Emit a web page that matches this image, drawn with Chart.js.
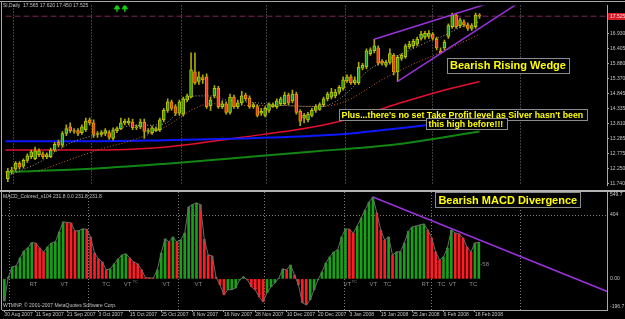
<!DOCTYPE html>
<html>
<head>
<meta charset="utf-8">
<script src="https://cdn.jsdelivr.net/npm/chart.js@4.4.1/dist/chart.umd.min.js"></script>
<style>
html, body { margin: 0; padding: 0; background: #000; }
#wrap { position: relative; width: 625px; height: 319px; overflow: hidden; background: #000; }
canvas { position: absolute; left: 0; }
#priceCanvas { top: 0; }
#macdCanvas { top: 191px; }
</style>
</head>
<body>
<div id="wrap">
  <canvas id="priceCanvas" width="625" height="191"></canvas>
  <canvas id="macdCanvas" width="625" height="128"></canvas>
</div>
<script>
// Data (SI daily)
const dates = ['30 Aug 2007', '11 Sep 2007', '21 Sep 2007', '3 Oct 2007', '15 Oct 2007', '25 Oct 2007',
               '6 Nov 2007', '16 Nov 2007', '28 Nov 2007', '10 Dec 2007', '20 Dec 2007', '3 Jan 2008',
               '15 Jan 2008', '25 Jan 2008', '6 Feb 2008', '18 Feb 2008'];
const dateBars = [0, 8, 16, 24, 32, 40, 48, 56, 64, 72, 80, 88, 96, 104, 112, 120];

const opens = [11.91, 12.17, 12.24, 12.44, 12.34, 12.54, 12.67, 12.60, 12.74, 12.77,
  12.67, 12.67, 12.90, 13.17, 13.07, 13.47, 13.70, 13.57, 13.57, 13.50,
  13.60, 13.94, 13.84, 13.44, 13.44, 13.47, 13.50, 13.30, 13.57, 13.64,
  13.84, 13.84, 13.87, 13.67, 13.70, 13.87, 13.54, 13.50, 13.57, 13.60,
  13.94, 14.27, 14.57, 14.40, 14.17, 14.14, 14.63, 14.73, 15.60, 15.27,
  15.40, 15.43, 14.43, 14.77, 15.03, 14.40, 14.50, 14.20, 14.73, 14.40,
  14.53, 14.80, 14.70, 14.40, 14.40, 14.17, 14.10, 14.27, 14.40, 14.40,
  14.50, 14.50, 14.80, 14.60, 14.83, 14.24, 14.00, 13.94, 14.10, 14.27,
  14.30, 14.47, 14.67, 14.73, 14.77, 14.90, 15.03, 15.30, 15.43, 15.23,
  15.23, 15.73, 15.77, 16.23, 16.33, 16.43, 15.97, 15.83, 15.93, 16.17,
  15.60, 16.07, 16.13, 16.46, 16.50, 16.56, 16.76, 16.80, 16.83, 16.90,
  16.73, 16.33, 16.43, 16.83, 17.16, 17.56, 17.20, 17.33, 17.23, 17.10,
  17.16, 17.565];
const highs = [12.27, 12.31, 12.50, 12.50, 12.60, 12.77, 12.90, 13.00, 12.94, 12.84,
  12.80, 12.97, 13.17, 13.24, 13.54, 13.77, 13.84, 13.64, 13.64, 13.77,
  14.00, 14.00, 13.94, 13.54, 13.57, 13.64, 13.57, 13.67, 13.70, 14.00,
  13.97, 14.00, 13.97, 13.77, 13.97, 13.97, 13.64, 13.74, 13.70, 14.00,
  14.34, 14.67, 14.63, 14.47, 14.63, 14.73, 14.83, 16.26, 16.26, 15.60,
  15.50, 15.53, 14.73, 15.13, 15.10, 14.60, 14.57, 14.83, 14.80, 14.63,
  14.93, 14.87, 14.77, 14.53, 14.47, 14.34, 14.40, 14.53, 14.53, 14.67,
  14.73, 14.90, 14.87, 14.97, 14.90, 14.30, 14.17, 14.20, 14.34, 14.47,
  14.53, 14.73, 14.90, 15.03, 15.00, 15.13, 15.43, 15.50, 15.50, 15.43,
  15.93, 15.90, 16.40, 16.43, 16.73, 16.50, 16.03, 16.00, 16.40, 16.23,
  16.17, 16.23, 16.56, 16.66, 16.73, 16.80, 17.00, 17.00, 17.03, 16.96,
  16.80, 16.43, 16.70, 17.26, 17.63, 17.63, 17.46, 17.40, 17.30, 17.26,
  17.63, 17.62];
const lows = [11.81, 12.07, 12.17, 12.24, 12.27, 12.47, 12.60, 12.57, 12.67, 12.60,
  12.60, 12.64, 12.84, 13.00, 13.00, 13.40, 13.50, 13.47, 13.40, 13.44,
  13.54, 13.77, 13.34, 13.34, 13.37, 13.40, 13.27, 13.24, 13.50, 13.60,
  13.77, 13.77, 13.60, 13.60, 13.64, 13.30, 13.47, 13.44, 13.54, 13.54,
  13.87, 14.20, 14.27, 14.10, 14.10, 14.07, 14.57, 14.70, 15.17, 15.17,
  15.20, 14.34, 14.27, 14.70, 14.34, 14.34, 14.14, 14.14, 14.34, 14.34,
  14.47, 14.60, 14.34, 14.34, 14.04, 14.10, 14.04, 14.20, 14.37, 14.34,
  14.43, 14.47, 14.47, 14.53, 14.14, 13.74, 13.84, 13.87, 14.04, 14.20,
  14.27, 14.40, 14.60, 14.67, 14.70, 14.83, 14.97, 15.23, 15.17, 15.17,
  15.17, 15.67, 15.70, 16.17, 16.26, 15.83, 15.83, 15.77, 15.87, 15.50,
  15.27, 16.00, 16.07, 16.40, 16.43, 16.50, 16.70, 16.73, 16.76, 16.70,
  16.36, 16.23, 16.36, 16.76, 17.10, 17.10, 17.13, 17.16, 17.03, 17.03,
  17.10, 17.45];
const closes = [12.17, 12.21, 12.44, 12.31, 12.54, 12.70, 12.84, 12.87, 12.87, 12.67,
  12.74, 12.90, 13.10, 13.07, 13.47, 13.64, 13.57, 13.54, 13.47, 13.70,
  13.90, 13.84, 13.44, 13.47, 13.50, 13.57, 13.34, 13.57, 13.64, 13.84,
  13.90, 13.90, 13.67, 13.70, 13.87, 13.54, 13.57, 13.67, 13.64, 13.94,
  14.27, 14.57, 14.34, 14.17, 14.57, 14.67, 14.77, 15.67, 15.23, 15.43,
  15.33, 14.40, 14.63, 15.03, 14.40, 14.50, 14.20, 14.73, 14.40, 14.53,
  14.77, 14.67, 14.40, 14.47, 14.10, 14.24, 14.34, 14.47, 14.47, 14.60,
  14.67, 14.80, 14.53, 14.83, 14.20, 13.90, 14.10, 14.14, 14.27, 14.40,
  14.47, 14.67, 14.83, 14.90, 14.90, 15.07, 15.33, 15.43, 15.23, 15.33,
  15.77, 15.83, 16.33, 16.36, 16.50, 15.90, 15.90, 15.93, 16.23, 15.60,
  16.10, 16.17, 16.50, 16.56, 16.66, 16.73, 16.90, 16.93, 16.93, 16.76,
  16.43, 16.26, 16.63, 17.20, 17.56, 17.16, 17.40, 17.23, 17.10, 17.20,
  17.56, 17.525];

// moving averages, sampled at a few bars
const maBars = [-1, 20, 40, 60, 80, 90, 100, 110, 121];
const maBlue = [13.20, 13.20, 13.24, 13.30, 13.40, 13.50, 13.64, 13.80, 14.00];
const maRed = [12.90, 12.90, 13.00, 13.34, 13.74, 14.07, 14.50, 14.90, 15.27];
const maGreen = [12.14, 12.24, 12.42, 12.64, 12.87, 12.97, 13.10, 13.30, 13.54];
const fastBars = [0, 8, 16, 24, 32, 40, 44, 48, 52, 56, 64, 72, 80, 84, 88, 92, 96, 100, 104, 108, 112, 116, 121];
const fastMA = [12.01, 12.47, 13.14, 13.47, 13.74, 13.80, 14.27, 14.77, 14.77, 14.63, 14.53, 14.43,
                14.40, 14.57, 15.00, 15.60, 15.93, 16.17, 16.40, 16.66, 16.86, 17.13, 17.33];
const slowBars = [8, 16, 24, 32, 40, 48, 52, 60, 70, 80, 84, 88, 96, 104, 112, 121];
const slowMA = [12.17, 12.57, 12.94, 13.24, 13.67, 14.34, 14.50, 14.44, 14.44, 14.40, 14.47, 14.67,
                15.33, 15.87, 16.33, 16.90];

const macd = [-140, 10, 76, 82, 133, 177, 196, 229, 226, 196,
  170, 202, 227, 234, 297, 360, 358, 354, 303, 305,
  316, 314, 265, 164, 126, 107, 57, 63, 95, 126,
  151, 158, 133, 107, 95, 57, 8, 6, 5, 57,
  164, 253, 234, 265, 234, 247, 290, 455, 470, 480,
  470, 250, 151, 145, 10, -38, -101, -69, -68, -57,
  -6, 13, -6, -50, -69, -114, -145, -88, -50, -25,
  4, 63, 57, 88, 25, -38, -151, -164, -132, -69,
  -6, 44, 101, 139, 170, 183, 265, 316, 314, 290,
  334, 385, 436, 486, 518, 417, 309, 246, 265, 151,
  170, 172, 227, 300, 328, 334, 341, 347, 309, 259,
  170, 120, 139, 196, 309, 290, 284, 259, 202, 170,
  227, 232];

const priceTicks = [16.930, 16.405, 15.880, 15.370, 14.845, 14.335, 13.810, 13.285, 12.775, 12.250, 11.740];
const macdTicks = [549.7, 404, 0, -196.7];
const macdTickText = ['549.7', '404', '0.00', '-196.7'];
const macdLevels = [404];
const monthStarts = [1.3, 21.4, 44.4, 66.3, 86.5, 108.7, 131.4];
const bidPrice = 17.525;
const wedgeUpper = [[94, 16.73], [125, 18.04]];
const wedgeLower = [[100, 15.27], [132, 18.07]];
const divergence = [[94, 518], [154, -82]];
const arrowBars = [28, 30];
const sigText = ['RT', 'VT', 'TC', 'VT', 'VT', 'VT', 'VT', 'VT', 'TC', 'RT', 'TC', 'VT', 'TC'];
const sigBars = [7.4, 15.3, 26, 31.4, 41.3, 49.5, 87.5, 94.1, 97.7, 107.4, 111.5, 114.3, 119.6];
const supBars = [33.4, 89.3];

// Layout / style
const X_MIN = -0.6, X_MAX = 153.7;
const AXIS_W = 18;
const PRICE_MIN = 11.674, PRICE_MAX = 17.895;
const GRID = '#7c7c7c';
const AXIS = '#a8a8a8';
const LABEL = '#c4c4c4';
const PURPLE = '#9a32dc';
const FONT = "'Liberation Sans', Arial, sans-serif";

Chart.defaults.font.family = FONT;
Chart.defaults.color = LABEL;

const barIdx = closes.map((c, i) => i);
const pts = (xs, ys) => xs.map((x, i) => ({ x: x, y: ys[i] }));
const pairs = arr => arr.map(p => ({ x: p[0], y: p[1] }));

// vertical dotted month lines, plus optional horizontal levels
function gridPlugin(levels) {
    return {
        id: 'mtGrid',
        beforeDatasetsDraw(chart) {
            const { ctx, chartArea: a, scales } = chart;
            ctx.save();
            ctx.strokeStyle = GRID;
            ctx.lineWidth = 1;
            ctx.setLineDash([1, 2]);
            monthStarts.forEach(v => {
                const px = Math.round(scales.x.getPixelForValue(v)) + 0.5;
                ctx.beginPath();
                ctx.moveTo(px, a.top);
                ctx.lineTo(px, a.bottom);
                ctx.stroke();
            });
            levels.forEach(v => {
                const py = Math.round(scales.y.getPixelForValue(v)) + 0.5;
                ctx.beginPath();
                ctx.moveTo(a.left, py);
                ctx.lineTo(a.right, py);
                ctx.stroke();
            });
            ctx.restore();
        }
    };
}

// yellow bold label in a grey outlined box (MT4 text objects)
function boxText(ctx, text, cx, cy, size, h) {
    ctx.font = `bold ${size}px ${FONT}`;
    const w = ctx.measureText(text).width;
    const x0 = Math.round(cx - w / 2 - 3) + 0.5;
    const y0 = Math.round(cy - h / 2) + 0.5;
    ctx.fillStyle = '#000';
    ctx.fillRect(x0, y0, w + 6, h);
    ctx.strokeStyle = '#8c8c8c';
    ctx.lineWidth = 1;
    ctx.strokeRect(x0, y0, Math.round(w + 6), h);
    ctx.fillStyle = '#ffff00';
    ctx.textAlign = 'center';
    ctx.textBaseline = 'middle';
    ctx.fillText(text, cx, cy + 1);
}

const priceNotes = {
    id: 'priceNotes',
    afterDraw(chart) {
        const { ctx, chartArea: a, scales: { x, y } } = chart;
        ctx.save();
        // frame
        ctx.fillStyle = AXIS;
        ctx.fillRect(0, 1, 625, 1);
        ctx.fillRect(1, 1, 1, 190);
        ctx.fillStyle = '#b4b4b4';
        ctx.fillRect(0, 190, 625, 1);

        // header
        ctx.font = `5px ${FONT}`;
        ctx.fillStyle = LABEL;
        ctx.textAlign = 'left';
        ctx.textBaseline = 'middle';
        ctx.fillText('SI,Daily  17.565 17.620 17.450 17.525', 3, 5.5);

        // bid price tag
        const by = y.getPixelForValue(bidPrice);
        ctx.fillStyle = '#d41c28';
        ctx.fillRect(a.right + 1, Math.round(by) - 3, 625 - a.right - 1, 7);
        ctx.fillStyle = '#ffd8d8';
        ctx.fillText(bidPrice.toFixed(3), a.right + 3, Math.round(by) + 0.5);

        boxText(ctx, 'Bearish Rising Wedge', x.getPixelForValue(128.3), y.getPixelForValue(15.83), 11, 15);
        boxText(ctx, "Plus...there's no set Take Profit level as Silver hasn't been",
                x.getPixelForValue(116.6), y.getPixelForValue(14.12), 8.8, 11);
        boxText(ctx, 'this high before!!!', x.getPixelForValue(117.5), y.getPixelForValue(13.81), 8.8, 11);
        ctx.restore();
    }
};

const macdNotes = {
    id: 'macdNotes',
    afterDraw(chart) {
        const { ctx, chartArea: a, scales: { x, y } } = chart;
        ctx.save();
        ctx.fillStyle = '#b4b4b4';
        ctx.fillRect(0, 0, 625, 1);
        ctx.fillStyle = AXIS;
        ctx.fillRect(1, 0, 1, a.bottom);

        ctx.textAlign = 'left';
        ctx.textBaseline = 'middle';
        ctx.font = `5px ${FONT}`;
        ctx.fillStyle = LABEL;
        ctx.fillText('MACD_Colored_v104 231.8 0.0 231.8 231.8', 3, 5.5);
        ctx.fillText('WTMNP, \u00a9 2001-2007 MetaQuotes Software Corp.', 3, a.bottom - 4);

        // right axis values
        macdTicks.forEach((v, i) => {
            let py = y.getPixelForValue(v);
            py = Math.min(Math.max(py, a.top + 3), a.bottom - 3);
            ctx.fillText(macdTickText[i], a.right + 3, py);
        });

        // wave labels under the zero line
        const zero = y.getPixelForValue(0);
        ctx.textAlign = 'center';
        ctx.fillStyle = '#8a8a8a';
        ctx.font = `6px ${FONT}`;
        sigText.forEach((t, i) => ctx.fillText(t, x.getPixelForValue(sigBars[i]), zero + 5));
        ctx.font = `4px ${FONT}`;
        supBars.forEach(b => ctx.fillText('TC', x.getPixelForValue(b), zero + 3));
        ctx.font = `6px ${FONT}`;
        ctx.fillText('-58', x.getPixelForValue(122.5), y.getPixelForValue(94));

        boxText(ctx, 'Bearish MACD Divergence', x.getPixelForValue(128.4), y.getPixelForValue(502), 11, 15);
        ctx.restore();
    }
};

function fixAxis(s, w) {
    s.width = w;
    s.paddingTop = 0;
    s.paddingBottom = 0;
}

// Price panel
new Chart(document.getElementById('priceCanvas'), {
    type: 'bar',
    data: {
        datasets: [
            { type: 'line', data: pairs(wedgeUpper), borderColor: PURPLE, borderWidth: 1.5, pointRadius: 0, order: 0 },
            { type: 'line', data: pairs(wedgeLower), borderColor: PURPLE, borderWidth: 1.5, pointRadius: 0, order: 0 },
            { type: 'scatter', data: arrowBars.map(b => ({ x: b, y: 17.83 })), pointStyle: 'triangle',
              pointRadius: 3, backgroundColor: '#10d010', borderColor: '#10d010', borderWidth: 1, order: 0 },
            { type: 'scatter', data: arrowBars.map(b => ({ x: b, y: 17.75 })), pointStyle: 'line', rotation: 90,
              pointRadius: 2, borderColor: '#10d010', borderWidth: 1.5, order: 0 },
            { type: 'bar', data: barIdx.map(i => ({ x: i, y: [opens[i], closes[i]] })),
              backgroundColor: barIdx.map(i => closes[i] >= opens[i] ? '#1d9a1d' : '#ec3a22'),
              borderColor: barIdx.map(i => closes[i] >= opens[i] ? '#c4c400' : '#e09a00'),
              borderWidth: 1, borderSkipped: false, barThickness: 3, grouped: false, order: 1 },
            { type: 'bar', data: barIdx.map(i => ({ x: i, y: [lows[i], highs[i]] })),
              backgroundColor: '#aaaa00', barThickness: 1, grouped: false, order: 2 },
            { type: 'line', data: pts(fastBars, fastMA), borderColor: '#a4a4a4', borderWidth: 1, borderDash: [1, 2],
              pointRadius: 0, cubicInterpolationMode: 'monotone', order: 3 },
            { type: 'line', data: pts(slowBars, slowMA), borderColor: '#c8662a', borderWidth: 1, borderDash: [1, 2],
              pointRadius: 0, cubicInterpolationMode: 'monotone', order: 3 },
            { type: 'line', data: pts(maBars, maBlue), borderColor: '#0c18ff', borderWidth: 2,
              pointRadius: 0, cubicInterpolationMode: 'monotone', order: 4 },
            { type: 'line', data: pts(maBars, maRed), borderColor: '#e4102c', borderWidth: 1.5,
              pointRadius: 0, cubicInterpolationMode: 'monotone', order: 4 },
            { type: 'line', data: pts(maBars, maGreen), borderColor: '#128612', borderWidth: 2,
              pointRadius: 0, cubicInterpolationMode: 'monotone', order: 4 },
            { type: 'line', data: [{ x: X_MIN, y: bidPrice }, { x: X_MAX, y: bidPrice }], borderColor: '#7e2656',
              borderWidth: 1, borderDash: [6, 3], pointRadius: 0, order: 5 }
        ]
    },
    options: {
        responsive: false,
        animation: false,
        devicePixelRatio: 1,
        layout: { padding: { left: 2, right: 0, top: 3, bottom: 1 } },
        plugins: { legend: { display: false }, tooltip: { enabled: false } },
        scales: {
            x: { type: 'linear', min: X_MIN, max: X_MAX, display: false, offset: false },
            y: {
                type: 'linear', position: 'right', min: PRICE_MIN, max: PRICE_MAX,
                afterBuildTicks: s => { s.ticks = priceTicks.map(v => ({ value: v })); },
                afterFit: s => fixAxis(s, AXIS_W),
                ticks: { color: LABEL, font: { size: 5 }, padding: 1, callback: v => v.toFixed(3) },
                grid: { drawOnChartArea: false, color: AXIS, tickLength: 2 },
                border: { color: AXIS }
            }
        }
    },
    plugins: [gridPlugin([]), priceNotes]
});

// MACD panel
new Chart(document.getElementById('macdCanvas'), {
    type: 'bar',
    data: {
        datasets: [
            { type: 'line', data: pairs(divergence), borderColor: PURPLE, borderWidth: 1.5, pointRadius: 0, order: 0 },
            { type: 'line', data: barIdx.map(i => ({ x: i, y: macd[i] })), borderColor: '#6c6c6c', borderWidth: 1,
              pointRadius: 0, order: 1 },
            { type: 'bar', data: barIdx.map(i => ({ x: i, y: macd[i] })),
              backgroundColor: barIdx.map(i => (i === 0 || macd[i] >= macd[i - 1]) ? '#18a018' : '#ff1c24'),
              barThickness: 2, grouped: false, order: 2 }
        ]
    },
    options: {
        responsive: false,
        animation: false,
        devicePixelRatio: 1,
        layout: { padding: { left: 2, right: 0, top: 1, bottom: 0 } },
        plugins: { legend: { display: false }, tooltip: { enabled: false } },
        scales: {
            x: {
                type: 'linear', min: X_MIN, max: X_MAX, offset: false,
                afterBuildTicks: s => { s.ticks = dateBars.map(v => ({ value: v })); },
                afterFit: s => { s.height = 9; s.paddingLeft = 0; s.paddingRight = 0; },
                ticks: { color: LABEL, font: { size: 5 }, padding: 0, align: 'start', autoSkip: false,
                         maxRotation: 0, minRotation: 0, callback: (v, i) => dates[i] },
                grid: { drawOnChartArea: false, color: AXIS, tickLength: 2, offset: false },
                border: { color: AXIS }
            },
            y: {
                type: 'linear', position: 'right', min: -196.7, max: 549.7,
                afterFit: s => fixAxis(s, AXIS_W),
                ticks: { display: false },
                grid: { drawOnChartArea: false, drawTicks: false },
                border: { color: AXIS }
            }
        }
    },
    plugins: [gridPlugin(macdLevels), macdNotes]
});
</script>
</body>
</html>
